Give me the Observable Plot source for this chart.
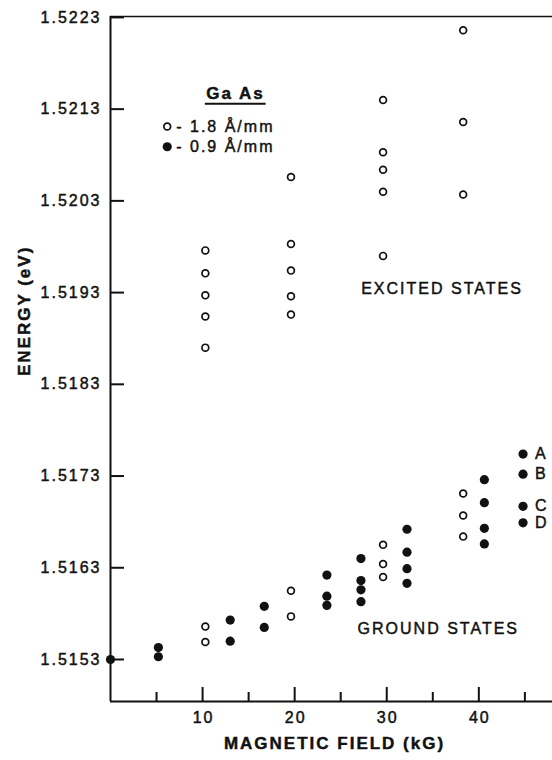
<!DOCTYPE html>
<html><head><meta charset="utf-8">
<script src="https://cdn.jsdelivr.net/npm/d3@7"></script>
<script src="https://cdn.jsdelivr.net/npm/@observablehq/plot@0.6"></script>
<style>
body{margin:0;background:#fff;}
#chart svg{display:block;}
#chart svg text{letter-spacing:2px;stroke:#111;stroke-width:0.45px;}
#chart g[aria-label="axis-title"] text{letter-spacing:2.6px;stroke-width:0.2px;}
#chart g[aria-label="legend-title"] text{stroke-width:0.2px;}
</style>
</head><body><div id="chart"></div>
<script>
// Excited states (open circles, 1.8 Å/mm)
const excitedField  = [10.3,10.3,10.3,10.3,10.3, 19.6,19.6,19.6,19.6,19.6, 29.6,29.6,29.6,29.6,29.6, 38.3,38.3,38.3];
const excitedEnergy = [1.51976,1.51951,1.51927,1.51904,1.51870, 1.52056,1.51983,1.51954,1.51926,1.51906, 1.52140,1.52083,1.52064,1.52040,1.51970, 1.52216,1.52116,1.52037];
// Ground states, open circles (1.8 Å/mm)
const groundOpenField  = [10.3,10.3, 19.6,19.6, 29.6,29.6,29.6, 38.3,38.3,38.3];
const groundOpenEnergy = [1.51566,1.51549, 1.51605,1.51577, 1.51655,1.51634,1.51620, 1.51711,1.51687,1.51664];
// Ground states, filled dots (0.9 Å/mm)
const groundFilledField  = [0, 5.2,5.2, 13.0,13.0, 16.7,16.7, 23.5,23.5,23.5, 27.2,27.2,27.2,27.2, 32.2,32.2,32.2,32.2, 40.6,40.6,40.6,40.6, 44.8,44.8,44.8,44.8];
const groundFilledEnergy = [1.51530, 1.51543,1.51533, 1.51573,1.51550, 1.51588,1.51565, 1.51622,1.51599,1.51589, 1.51640,1.51616,1.51606,1.51593, 1.51672,1.51647,1.51629,1.51613, 1.51726,1.51701,1.51673,1.51656, 1.51754,1.51732,1.51697,1.51679];
// Line labels on the last column
const lineLabels = ["A","B","C","D"];
const lineLabelField = 44.8;
const lineLabelEnergy = [1.51754,1.51732,1.51697,1.51679];
// Axes
const yTicks = [1.5153,1.5163,1.5173,1.5183,1.5193,1.5203,1.5213,1.5223];
const xMajorTicks = [10,20,30,40];
const xMinorTicks = [5,15,25,35,45];
const xDomain = [0, 48];
const yDomain = [1.514842, 1.52231];
const xTitle = "MAGNETIC FIELD (kG)";
const yTitle = "ENERGY (eV)";
// Annotations
const annotationText   = ["EXCITED STATES","GROUND STATES"];
const annotationField  = [36.0, 35.6];
const annotationEnergy = [1.51934, 1.51563];
// Legend
const legendTitle = "Ga As";
const legendTitleField = 13.57, legendTitleEnergy = 1.52147;
const legendUnderline = {x1: 10.3, x2: 16.9, y: 1.52136};
const legendLabels = ["- 1.8 Å/mm", "- 0.9 Å/mm"];
const legendField = 6.16;
const legendEnergy = [1.52111, 1.52089];

const ink = "#111";
const frameH = 760 - 16 - 59, frameW = 552 - 110;

const excited = excitedField.map((f,i)=>({f, e: excitedEnergy[i]}));
const gOpen = groundOpenField.map((f,i)=>({f, e: groundOpenEnergy[i]}));
const gFilled = groundFilledField.map((f,i)=>({f, e: groundFilledEnergy[i]}));
const abcd = lineLabels.map((t,i)=>({t, f: lineLabelField, e: lineLabelEnergy[i]}));
const ann = annotationText.map((t,i)=>({t, f: annotationField[i], e: annotationEnergy[i]}));

const plot = Plot.plot({
  width: 552, height: 760,
  marginLeft: 110, marginRight: 0, marginTop: 16, marginBottom: 59,
  x: {domain: xDomain, axis: null},
  y: {domain: yDomain, axis: null},
  style: {fontFamily: "'Liberation Sans', Arial, sans-serif", fontSize: "16px", color: ink, background: "white", overflow: "visible"},
  marks: [
    // frame lines
    Plot.ruleX([xDomain[0]], {stroke: ink, strokeWidth: 2}),
    Plot.ruleY([yDomain[0]], {stroke: ink, strokeWidth: 2}),
    Plot.ruleY([yDomain[1]], {stroke: ink, strokeWidth: 1.6}),
    // inward ticks
    Plot.tickX(xMajorTicks, {x: d=>d, insetTop: frameH - 14, stroke: ink, strokeWidth: 2}),
    Plot.tickX(xMinorTicks, {x: d=>d, insetTop: frameH - 9, stroke: ink, strokeWidth: 2}),
    Plot.tickY(yTicks, {y: d=>d, insetRight: frameW - 14, stroke: ink, strokeWidth: 2}),
    // tick labels
    Plot.text(yTicks, {y: d=>d, text: d=>d.toFixed(4), frameAnchor: "left", textAnchor: "end", dx: -9, fill: ink, fontSize: 16}),
    Plot.text(xMajorTicks, {x: d=>d, text: d=>String(d), frameAnchor: "bottom", dy: 21, dx: 1, fill: ink, fontSize: 16}),
    // axis titles
    Plot.text([xTitle], {text: d=>d, frameAnchor: "bottom", dy: 47, dx: 3, fontWeight: "bold", fontSize: 17, fill: ink, ariaLabel: "axis-title"}),
    Plot.text([yTitle], {text: d=>d, frameAnchor: "left", rotate: -90, dx: -86, dy: 17, fontWeight: "bold", fontSize: 17, fill: ink, ariaLabel: "axis-title"}),
    // data
    Plot.dot(excited, {x: "f", y: "e", r: 3.4, stroke: ink, strokeWidth: 1.7, fill: "white"}),
    Plot.dot(gOpen, {x: "f", y: "e", r: 3.4, stroke: ink, strokeWidth: 1.7, fill: "white"}),
    Plot.dot(gFilled, {x: "f", y: "e", r: 4.6, fill: ink, stroke: "none"}),
    Plot.text(abcd, {x: "f", y: "e", text: "t", textAnchor: "start", dx: 12, fill: ink, fontSize: 16}),
    // annotations
    Plot.text(ann, {x: "f", y: "e", text: "t", fill: ink, fontSize: 16}),
    // legend
    Plot.text([legendTitle], {x: ()=>legendTitleField, y: ()=>legendTitleEnergy, text: d=>d, fontWeight: "bold", fontSize: 17, fill: ink, ariaLabel: "legend-title"}),
    Plot.ruleY([legendUnderline], {y: "y", x1: "x1", x2: "x2", stroke: ink, strokeWidth: 2}),
    Plot.dot([legendEnergy[0]], {x: ()=>legendField, y: d=>d, r: 3.4, stroke: ink, strokeWidth: 1.7, fill: "white"}),
    Plot.dot([legendEnergy[1]], {x: ()=>legendField, y: d=>d, r: 4.6, fill: ink, stroke: "none"}),
    Plot.text(legendLabels.map((t,i)=>({t, e: legendEnergy[i]})), {x: ()=>legendField, y: "e", text: "t", textAnchor: "start", dx: 9, fill: ink, fontSize: 16})
  ]
});
document.getElementById("chart").appendChild(plot);
</script>
</body></html>
